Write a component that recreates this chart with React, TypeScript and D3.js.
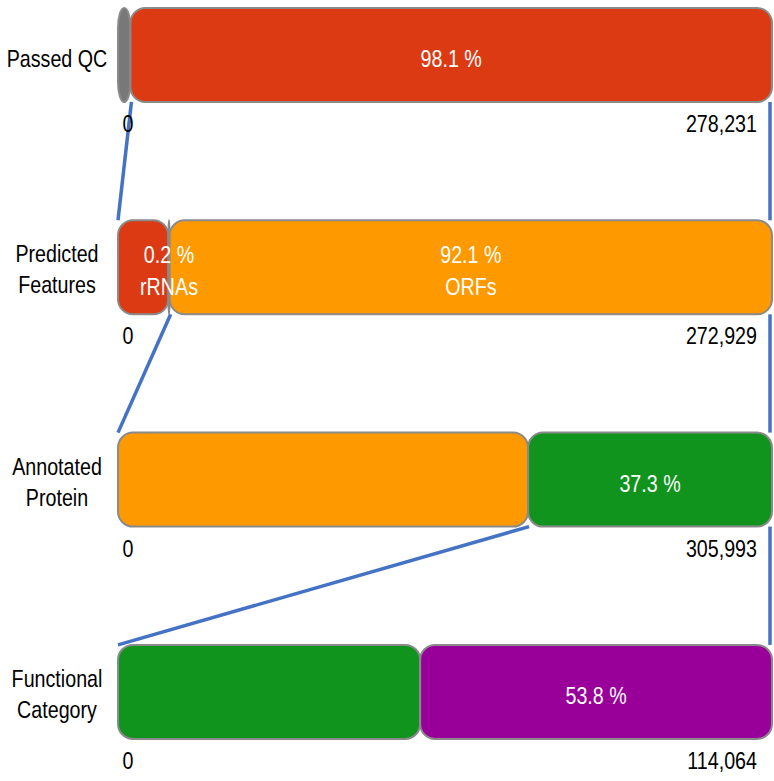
import React from "react";
import * as d3 from "d3";

const categories = ["Passed QC", "Predicted Features", "Annotated Protein", "Functional Category"];
const rowLabelLines = [["Passed QC"], ["Predicted", "Features"], ["Annotated", "Protein"], ["Functional", "Category"]];
const totalLabels = ["278,231", "272,929", "305,993", "114,064"];
const startLabel = "0";

const passedQC = [
  { value: 1.9, color: "#787878", text: [] as string[] },
  { value: 98.1, color: "#DC3A12", text: ["98.1 %"] },
];
const predictedFeatures = [
  { value: 7.7, color: "#DC3A12", text: [] as string[] },
  { value: 0.2, color: "#8a8a8a", text: ["0.2 %", "rRNAs"] },
  { value: 92.1, color: "#FF9900", text: ["92.1 %", "ORFs"] },
];
const annotatedProtein = [
  { value: 62.7, color: "#FF9900", text: [] as string[] },
  { value: 37.3, color: "#11941E", text: ["37.3 %"] },
];
const functionalCategory = [
  { value: 46.2, color: "#11941E", text: [] as string[] },
  { value: 53.8, color: "#990099", text: ["53.8 %"] },
];
const rows = [passedQC, predictedFeatures, annotatedProtein, functionalCategory];
// index of the segment that feeds the next row
const highlightIndex = [1, 2, 1, 1];

const W = 774;
const H = 781;
const FONT = "'Liberation Sans', Arial, sans-serif";
const SX = 0.82;

function NText(props: { x: number; y: number; anchor: string; fill: string; children: string }) {
  return (
    <text
      transform={`translate(${props.x},${props.y}) scale(${SX},1)`}
      textAnchor={props.anchor}
      fill={props.fill}
      fontSize={24}
    >
      {props.children}
    </text>
  );
}

export default function App() {
  const x = d3.scaleLinear().domain([0, 100]).range([118, 772]);
  const y = d3.scaleBand<string>().domain(categories).range([8, 8 + 4 * 212.3]).paddingInner(0).paddingOuter(0);
  const barH = 94;

  const stacked = rows.map((segs) => {
    let cum = 0;
    return segs.map((s) => {
      const r = { ...s, x0: cum, x1: cum + s.value };
      cum += s.value;
      return r;
    });
  });

  return (
    <svg width={W} height={H} style={{ position: "absolute", left: 0, top: 0, background: "#fff" }} fontFamily={FONT}>
      {categories.slice(0, -1).map((c, i) => {
        const bottom = (y(c) as number) + barH;
        const nextTop = y(categories[i + 1]) as number;
        const seg = stacked[i][highlightIndex[i]];
        return (
          <g key={"con" + i} stroke="#4472C4" strokeWidth={3.5} fill="none">
            <line x1={x(seg.x0) + 1} y1={bottom} x2={x(0)} y2={nextTop} />
            <line x1={x(100) - 2} y1={bottom} x2={x(100) - 2} y2={nextTop} />
          </g>
        );
      })}
      {categories.map((c, i) => {
        const top = y(c) as number;
        const cy = top + barH / 2;
        const lines = rowLabelLines[i];
        return (
          <g key={c}>
            {stacked[i].map((s, j) => {
              const w = x(s.x1) - x(s.x0);
              const rx = Math.min(15, w / 2);
              const ry = w < 30 ? 20 : 15;
              return (
                <rect
                  key={j}
                  x={x(s.x0)}
                  y={top}
                  width={w}
                  height={barH}
                  rx={rx}
                  ry={ry}
                  fill={s.color}
                  stroke="#8a8a8a"
                  strokeWidth={2}
                />
              );
            })}
            {stacked[i].map((s, j) => {
              if (!s.text.length) return null;
              const mx = (x(s.x0) + x(s.x1)) / 2;
              const base = s.text.length === 1 ? [cy + 12] : [cy - 4.5, cy + 27.5];
              return s.text.map((t, k) => (
                <NText key={j + "-" + k} x={mx} y={base[k]} anchor="middle" fill="#fff">
                  {t}
                </NText>
              ));
            })}
            {lines.map((t, k) => (
              <NText
                key={"l" + k}
                x={57}
                y={lines.length === 1 ? cy + 12 : cy + (k === 0 ? -5 : 26)}
                anchor="middle"
                fill="#000"
              >
                {t}
              </NText>
            ))}
            <NText x={128} y={top + barH + 30} anchor="middle" fill="#000">
              {startLabel}
            </NText>
            <NText x={757} y={top + barH + 30} anchor="end" fill="#000">
              {totalLabels[i]}
            </NText>
          </g>
        );
      })}
    </svg>
  );
}
